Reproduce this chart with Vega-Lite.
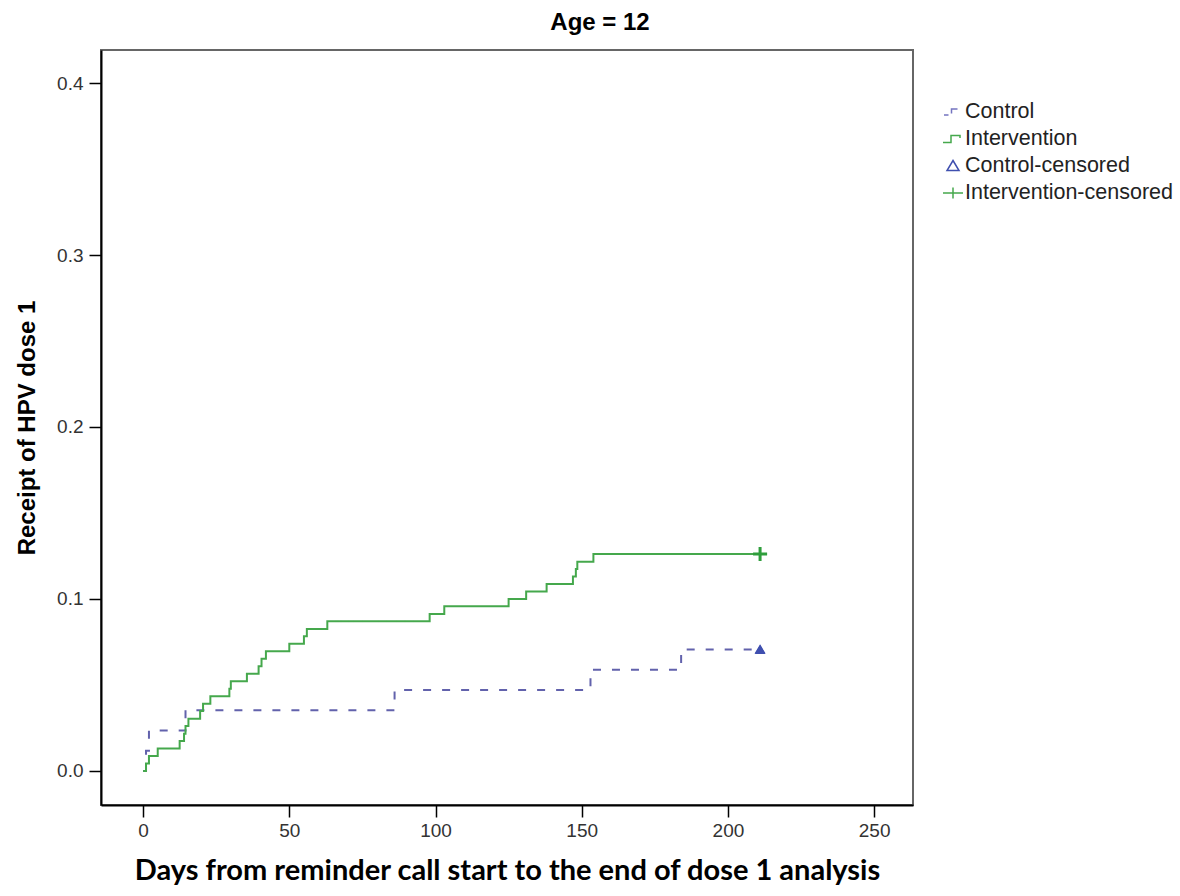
{
  "$schema": "https://vega.github.io/schema/vega-lite/v6.json",
  "width": 812,
  "height": 755,
  "autosize": {"type": "none"},
  "padding": {"left": 101, "top": 50, "right": 267, "bottom": 91},
  "background": "white",
  "title": {
    "text": "Age = 12",
    "font": "Liberation Sans",
    "fontSize": 24,
    "fontWeight": "bold",
    "color": "black",
    "anchor": "middle",
    "dx": 93,
    "offset": 15
  },
  "config": {
    "view": {"stroke": "#666", "strokeWidth": 2},
    "axis": {
      "grid": false,
      "domainColor": "black",
      "domainWidth": 2,
      "tickColor": "black",
      "tickWidth": 1.5,
      "labelFont": "Liberation Sans",
      "labelFontSize": 19,
      "labelColor": "#333",
      "titleColor": "black",
      "titleFontWeight": "bold"
    },
    "legend": {
      "orient": "none",
      "legendX": 841,
      "legendY": 51,
      "symbolSize": 400,
      "labelFont": "Liberation Sans",
      "labelFontSize": 21.5,
      "labelColor": "#222",
      "labelOffset": 1,
      "labelLimit": 400,
      "rowPadding": 5,
      "padding": 0
    }
  },
  "datasets": {
    "curves": [
      {"series": "Control", "day": 0, "value": 0},
      {"series": "Control", "day": 1, "value": 0.0118},
      {"series": "Control", "day": 2, "value": 0.0235},
      {"series": "Control", "day": 14.5, "value": 0.0353},
      {"series": "Control", "day": 86, "value": 0.0471},
      {"series": "Control", "day": 153, "value": 0.0588},
      {"series": "Control", "day": 184, "value": 0.0706},
      {"series": "Control", "day": 211, "value": 0.0706},
      {"series": "Intervention", "day": 0, "value": 0},
      {"series": "Intervention", "day": 1, "value": 0.0043},
      {"series": "Intervention", "day": 2, "value": 0.0087},
      {"series": "Intervention", "day": 5, "value": 0.013},
      {"series": "Intervention", "day": 12.5, "value": 0.0174},
      {"series": "Intervention", "day": 14, "value": 0.0217},
      {"series": "Intervention", "day": 14.5, "value": 0.0261},
      {"series": "Intervention", "day": 15.5, "value": 0.0304},
      {"series": "Intervention", "day": 19.5, "value": 0.0348},
      {"series": "Intervention", "day": 20.5, "value": 0.0391},
      {"series": "Intervention", "day": 23, "value": 0.0435},
      {"series": "Intervention", "day": 29.5, "value": 0.0478},
      {"series": "Intervention", "day": 30, "value": 0.0522},
      {"series": "Intervention", "day": 35.5, "value": 0.0565},
      {"series": "Intervention", "day": 39.5, "value": 0.0609},
      {"series": "Intervention", "day": 40.5, "value": 0.0652},
      {"series": "Intervention", "day": 42, "value": 0.0696},
      {"series": "Intervention", "day": 50, "value": 0.0739},
      {"series": "Intervention", "day": 55, "value": 0.0783},
      {"series": "Intervention", "day": 56, "value": 0.0826},
      {"series": "Intervention", "day": 63, "value": 0.087},
      {"series": "Intervention", "day": 98, "value": 0.0913},
      {"series": "Intervention", "day": 103, "value": 0.0957},
      {"series": "Intervention", "day": 125, "value": 0.1},
      {"series": "Intervention", "day": 131, "value": 0.1043},
      {"series": "Intervention", "day": 138, "value": 0.1087},
      {"series": "Intervention", "day": 147, "value": 0.113},
      {"series": "Intervention", "day": 148, "value": 0.1174},
      {"series": "Intervention", "day": 148.5, "value": 0.1217},
      {"series": "Intervention", "day": 154, "value": 0.1261},
      {"series": "Intervention", "day": 211, "value": 0.1261}
    ],
    "censored": [
      {"series": "Control-censored", "day": 211, "value": 0.0706},
      {"series": "Intervention-censored", "day": 211, "value": 0.1261}
    ]
  },
  "encoding": {
    "x": {
      "field": "day",
      "type": "quantitative",
      "scale": {"domain": [-14.4, 263.3], "nice": false, "zero": false},
      "axis": {
        "values": [0, 50, 100, 150, 200, 250],
        "tickSize": 12,
        "labelPadding": 4,
        "title": "Days from reminder call start to the end of dose 1 analysis",
        "titleFont": "Lato",
        "titleFontSize": 29,
        "titlePadding": 16
      }
    },
    "y": {
      "field": "value",
      "type": "quantitative",
      "scale": {"domain": [-0.0198, 0.4192], "nice": false, "zero": false},
      "axis": {
        "values": [0, 0.1, 0.2, 0.3, 0.4],
        "format": ".1f",
        "tickSize": 12,
        "labelPadding": 6,
        "title": "Receipt of HPV dose 1",
        "titleFont": "Liberation Sans",
        "titleFontSize": 24,
        "titlePadding": 17
      }
    }
  },
  "layer": [
    {
      "data": {"name": "curves"},
      "mark": {"type": "line", "interpolate": "step-after", "strokeWidth": 2},
      "encoding": {
        "stroke": {
          "field": "series",
          "type": "nominal",
          "scale": {"domain": ["Control", "Intervention"], "range": ["#6262ac", "#45a84c"]},
          "legend": null
        },
        "strokeDash": {
          "field": "series",
          "type": "nominal",
          "scale": {"domain": ["Control", "Intervention"], "range": [[8, 11], [1, 0]]},
          "legend": null
        }
      }
    },
    {
      "data": {"name": "censored"},
      "mark": {"type": "point", "filled": false, "strokeWidth": 1.5, "size": 196, "opacity": 1},
      "encoding": {
        "color": {
          "field": "series",
          "type": "nominal",
          "scale": {
            "domain": ["Control", "Intervention", "Control-censored", "Intervention-censored"],
            "range": ["#7474c0", "#45a84c", "#3f4faf", "#45a84c"]
          },
          "legend": {"title": null}
        },
        "shape": {
          "field": "series",
          "type": "nominal",
          "scale": {
            "domain": ["Control", "Intervention", "Control-censored", "Intervention-censored"],
            "range": [
              "M-0.9,0.3H-0.45M-0.15,0.15V-0.3H0.45",
              "M-1,0.35H-0.2V-0.35H0.7V-0.1",
              "M0,-0.55L0.6,0.45L-0.6,0.45Z",
              "M-1,0H1M0,-0.55V0.55"
            ]
          },
          "legend": {"title": null}
        }
      }
    },
    {
      "data": {"name": "censored"},
      "transform": [{"filter": "datum.series === 'Control-censored'"}],
      "mark": {"type": "point", "shape": "triangle-up", "filled": true, "size": 110, "color": "#3f4faf", "opacity": 1}
    },
    {
      "data": {"name": "censored"},
      "transform": [{"filter": "datum.series === 'Intervention-censored'"}],
      "mark": {"type": "point", "shape": "M-1,0H1M0,-1V1", "filled": false, "strokeWidth": 3, "size": 196, "color": "#2f9e3c", "opacity": 1}
    }
  ]
}
